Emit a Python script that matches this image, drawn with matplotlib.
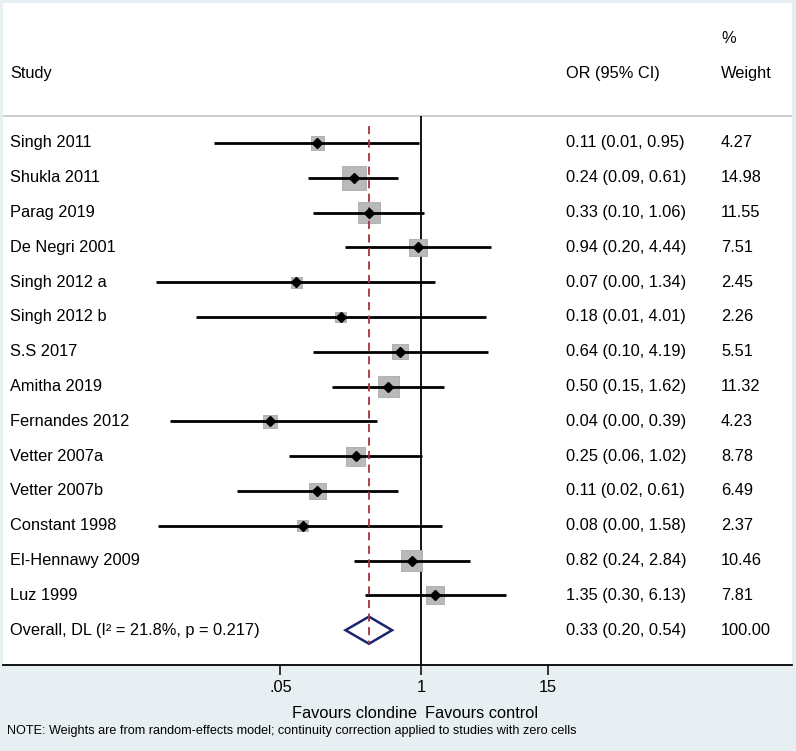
import numpy as np
import matplotlib
matplotlib.use("Agg")
import matplotlib.pyplot as plt
from matplotlib.patches import Polygon

plt.rcParams['font.family'] = ['Liberation Sans', 'DejaVu Sans']

# -----------------------
# Data
# -----------------------
studies = ["Singh 2011", "Shukla 2011", "Parag 2019", "De Negri 2001",
           "Singh 2012 a", "Singh 2012 b", "S.S 2017", "Amitha 2019",
           "Fernandes 2012", "Vetter 2007a", "Vetter 2007b", "Constant 1998",
           "El-Hennawy 2009", "Luz 1999"]
or_est = [0.11, 0.24, 0.33, 0.94, 0.07, 0.18, 0.64, 0.50, 0.04, 0.25,
          0.11, 0.08, 0.82, 1.35]
ci_low = [0.012, 0.09, 0.10, 0.20, 0.0035, 0.0083, 0.10, 0.15, 0.0047,
          0.06, 0.02, 0.0037, 0.24, 0.30]
ci_high = [0.95, 0.61, 1.06, 4.44, 1.34, 4.01, 4.19, 1.62, 0.39, 1.02,
           0.61, 1.58, 2.84, 6.13]
weights = [4.27, 14.98, 11.55, 7.51, 2.45, 2.26, 5.51, 11.32, 4.23, 8.78,
           6.49, 2.37, 10.46, 7.81]

overall_label = "Overall, DL (I\u00b2 = 21.8%, p = 0.217)"
overall_est, overall_low, overall_high = 0.33, 0.20, 0.54
overall_weight = 100.00

tick_vals = [0.05, 1, 15]
tick_labels = [".05", "1", "15"]

# -----------------------
# Style
# -----------------------
BAND = "#e8eff2"
BOX = "#b9b9b9"
BOX_EDGE = "#a9a9a9"
REF = "#a8323c"
NAVY = "#1c2470"
SEP = "#c9c9c9"
FS = 11.8

W, H = 796, 751
fig = plt.figure(figsize=(W / 100, H / 100), dpi=100, facecolor=BAND)
ax = fig.add_axes([3 / W, 86 / H, 789 / W, 662 / H])
ax.set_facecolor("white")

n = len(studies)
rows = np.arange(n)

ax.set_xscale("log")
ax.set_xlim(10 ** -3.87, 10 ** 3.435)
ax.set_ylim(15.0, -4.02)

# header
ax.text(0.009, -2, "Study", transform=ax.get_yaxis_transform(),
        fontsize=FS, va="center", ha="left")
ax.text(0.7136, -2, "OR (95% CI)", transform=ax.get_yaxis_transform(),
        fontsize=FS, va="center", ha="left")
ax.text(0.910, -3, "%", transform=ax.get_yaxis_transform(),
        fontsize=FS, va="center", ha="left")
ax.text(0.910, -2, "Weight", transform=ax.get_yaxis_transform(),
        fontsize=FS, va="center", ha="left")
ax.axhline(-0.78, color=SEP, lw=1.3, zorder=1)

# null line and overall reference line
ax.vlines(1, -0.78, 15.0, color="black", lw=1.3, zorder=2)
ax.vlines(overall_est, -0.5, n + 0.4, color=REF, lw=1.3,
          linestyles=(0, (4.5, 3)), zorder=5)

# study rows
side_px = 5.9 * np.sqrt(weights) + 1.5
ax.scatter(or_est, rows, marker="s", s=(side_px * 0.72) ** 2,
           color=BOX, edgecolors=BOX_EDGE, linewidths=0.6, zorder=3)
ax.hlines(rows, ci_low, ci_high, color="black", lw=2.0, zorder=4)
ax.plot(or_est, rows, "D", color="black", ms=5, zorder=6)

for i in range(n):
    ax.text(0.009, rows[i], studies[i], transform=ax.get_yaxis_transform(),
            fontsize=FS, va="center", ha="left")
    ax.text(0.7136, rows[i],
            f"{or_est[i]:.2f} ({ci_low[i]:.2f}, {ci_high[i]:.2f})",
            transform=ax.get_yaxis_transform(), fontsize=FS,
            va="center", ha="left")
    ax.text(0.910, rows[i], f"{weights[i]:.2f}",
            transform=ax.get_yaxis_transform(), fontsize=FS,
            va="center", ha="left")

# overall diamond
diamond = Polygon([(overall_low, n), (overall_est, n - 0.39),
                   (overall_high, n), (overall_est, n + 0.39)],
                  closed=True, fill=False, edgecolor=NAVY, lw=1.8, zorder=4)
ax.add_patch(diamond)
ax.text(0.009, n, overall_label, transform=ax.get_yaxis_transform(),
        fontsize=FS, va="center", ha="left")
ax.text(0.7136, n, f"{overall_est:.2f} ({overall_low:.2f}, {overall_high:.2f})",
        transform=ax.get_yaxis_transform(), fontsize=FS, va="center", ha="left")
ax.text(0.910, n, f"{overall_weight:.2f}", transform=ax.get_yaxis_transform(),
        fontsize=FS, va="center", ha="left")

# axis
for s in ["top", "left", "right"]:
    ax.spines[s].set_visible(False)
ax.spines["bottom"].set_linewidth(1.3)
ax.set_yticks([])
ax.set_xticks(tick_vals)
ax.set_xticklabels(tick_labels)
ax.minorticks_off()
ax.tick_params(axis="x", direction="out", length=7.5, width=1.1, pad=3,
               labelsize=FS)

ax.annotate("Favours clondine", xy=(1, 38 / H),
            xycoords=("data", "figure fraction"), xytext=(-3, 0),
            textcoords="offset points", ha="right", va="center", fontsize=FS)
ax.annotate("Favours control", xy=(1, 38 / H),
            xycoords=("data", "figure fraction"), xytext=(3, 0),
            textcoords="offset points", ha="left", va="center", fontsize=FS)

fig.text(7 / W, 20 / H,
         "NOTE: Weights are from random-effects model; continuity correction "
         "applied to studies with zero cells",
         fontsize=9.1, va="center", ha="left")

fig.savefig("out.png", dpi=100, facecolor=BAND)
